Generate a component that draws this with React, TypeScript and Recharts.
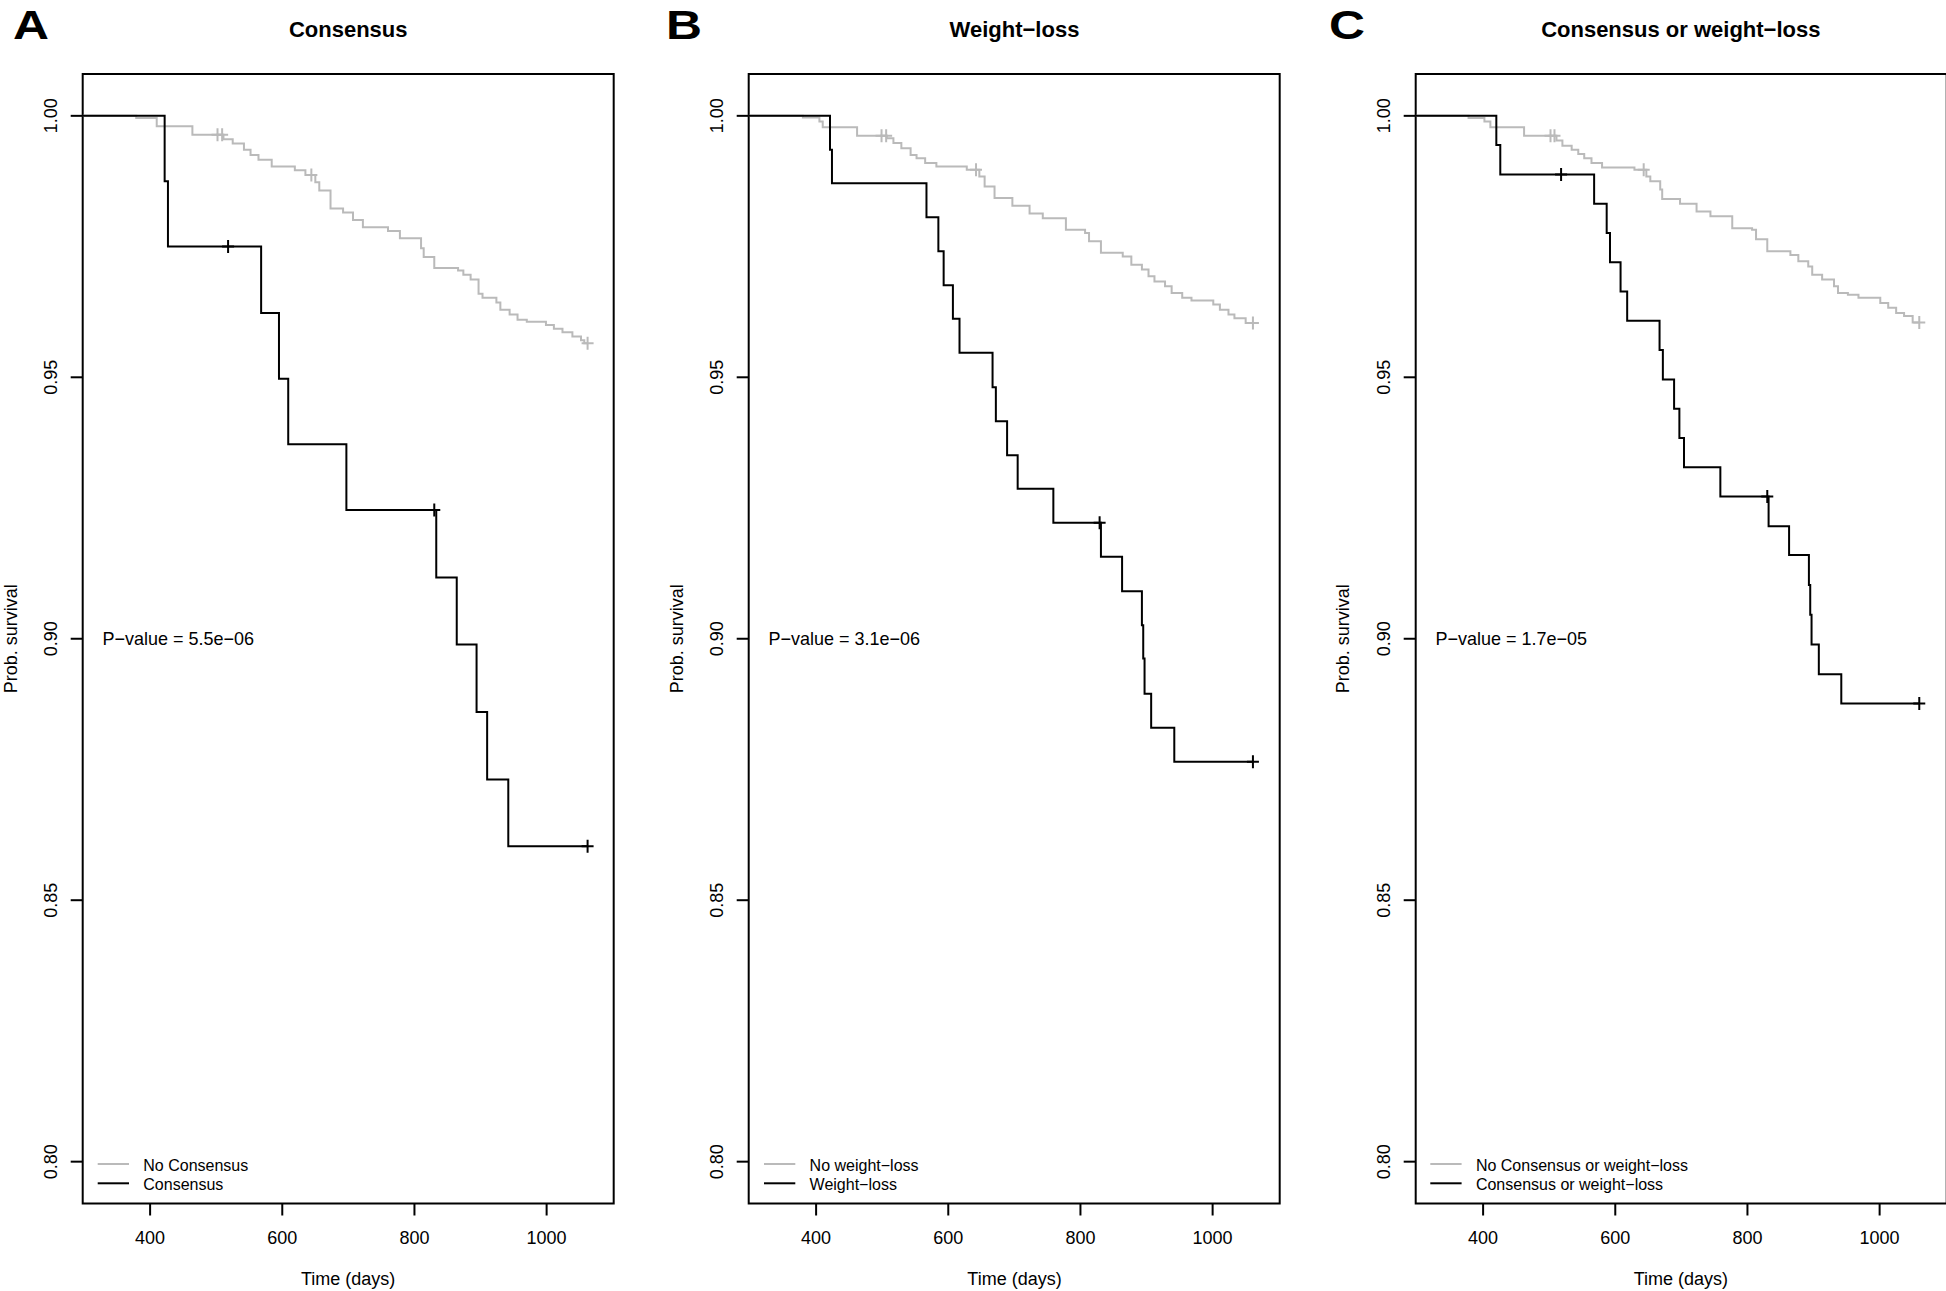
import React from "react";
import {
  ComposedChart,
  Line,
  XAxis,
  YAxis,
  ReferenceArea,
  ReferenceDot,
} from "recharts";

// R-style base graphics look: Helvetica-ish text, black box, grey/black KM curves
const FONT = '"Liberation Sans", Arial, Helvetica, sans-serif';
const GREY = "#bababa";
const BLACK = "#000000";

const X_DOMAIN = [298, 1101.5];
const Y_DOMAIN = [0.792, 1.008];
const X_TICKS = [400, 600, 800, 1000];
const Y_TICKS = [0.8, 0.85, 0.9, 0.95, 1.0];
const P_TEXT_X = 328;
const P_TEXT_Y = 0.9;

// --- Panel A: Consensus ---
const noConsT = [0, 379, 410, 464, 511, 525, 542, 552, 564, 584, 619, 635, 650, 656, 673, 692, 707, 722, 760, 778, 810, 814, 830, 866, 874, 885, 897, 903, 924, 930, 944, 956, 970, 999, 1011, 1024, 1039, 1052, 1057];
const noConsS = [1, 0.9996, 0.998, 0.9964, 0.9955, 0.9947, 0.9935, 0.9925, 0.9916, 0.9903, 0.9896, 0.9887, 0.9873, 0.9857, 0.9823, 0.9815, 0.9801, 0.9787, 0.978, 0.9766, 0.9747, 0.973, 0.9709, 0.9704, 0.9696, 0.9687, 0.966, 0.9652, 0.9643, 0.9629, 0.962, 0.961, 0.9606, 0.96, 0.9593, 0.9586, 0.9578, 0.9571, 0.9565];
const noConsCens = [502, 509, 644, 1062];

const consT = [0, 422, 427, 568, 595, 609, 697, 833, 864, 894, 910, 942];
const consS = [1, 0.9875, 0.975, 0.9623, 0.9497, 0.9372, 0.9246, 0.9117, 0.8989, 0.886, 0.8731, 0.8603];
const consCens = [518, 830, 1062];

// --- Panel B: Weight-loss ---
const noWlT = [0, 380, 405, 410, 462, 507, 517, 529, 543, 552, 565, 582, 628, 647, 655, 670, 697, 723, 743, 778, 807, 813, 831, 864, 877, 893, 903, 912, 928, 938, 954, 968, 1001, 1011, 1024, 1033, 1050];
const noWlS = [1, 0.9997, 0.9989, 0.9978, 0.9962, 0.9957, 0.9948, 0.9938, 0.9925, 0.9919, 0.991, 0.9903, 0.9897, 0.9884, 0.9865, 0.9843, 0.9828, 0.9813, 0.9804, 0.9782, 0.9776, 0.976, 0.9738, 0.9731, 0.9715, 0.9706, 0.9693, 0.9683, 0.9674, 0.9661, 0.9652, 0.9647, 0.9639, 0.9629, 0.962, 0.9613, 0.9604];
const noWlCens = [499, 506, 642, 1061];

const wlT = [0, 421, 424, 567, 585, 593, 607, 617, 667, 672, 689, 705, 759, 831, 863, 893, 895, 897, 907, 942];
const wlS = [1, 0.9935, 0.9871, 0.9806, 0.9741, 0.9676, 0.9612, 0.9547, 0.9481, 0.9416, 0.9351, 0.9287, 0.9222, 0.9157, 0.9091, 0.9026, 0.8962, 0.8895, 0.883, 0.8765];
const wlCens = [829, 1061];

// --- Panel C: Consensus or weight-loss ---
const noEitherT = [0, 378, 402, 411, 462, 511, 520, 534, 544, 553, 564, 580, 629, 647, 653, 668, 671, 698, 723, 744, 777, 807, 813, 830, 865, 877, 892, 898, 913, 931, 937, 952, 968, 1001, 1013, 1025, 1037, 1050];
const noEitherS = [1, 0.9996, 0.9989, 0.9978, 0.9962, 0.9953, 0.9943, 0.9935, 0.9927, 0.9919, 0.991, 0.9901, 0.9897, 0.9884, 0.9875, 0.9859, 0.9841, 0.9832, 0.9817, 0.9808, 0.9785, 0.9782, 0.9764, 0.9741, 0.9734, 0.9722, 0.9712, 0.9696, 0.9687, 0.9674, 0.9661, 0.9658, 0.9652, 0.9642, 0.9633, 0.9623, 0.9617, 0.9605];
const noEitherCens = [502, 508, 643, 1060];

const eitherT = [0, 420, 426, 568, 587, 592, 608, 618, 667, 672, 689, 697, 704, 759, 832, 863, 893, 895, 897, 908, 942];
const eitherS = [1, 0.9944, 0.9888, 0.9832, 0.9776, 0.972, 0.9664, 0.9608, 0.9552, 0.9496, 0.944, 0.9384, 0.9328, 0.9272, 0.9215, 0.916, 0.9103, 0.9046, 0.8989, 0.8932, 0.8876];
const eitherCens = [518, 830, 1060];

const letters = ["A", "B", "C"];
const titles = ["Consensus", "Weight\u2212loss", "Consensus or weight\u2212loss"];
const pValues = ["P\u2212value = 5.5e\u221206", "P\u2212value = 3.1e\u221206", "P\u2212value = 1.7e\u221205"];
const legendGrey = ["No Consensus", "No weight\u2212loss", "No Consensus or weight\u2212loss"];
const legendBlack = ["Consensus", "Weight\u2212loss", "Consensus or weight\u2212loss"];

type Row = { t: number; s: number; cens?: boolean };

// step curve rows + censoring rows (censor sits on the current level)
function km(times: number[], surv: number[], cens: number[]): Row[] {
  const rows: Row[] = times.map((t, i) => ({ t, s: surv[i] }));
  cens.forEach((c) => {
    let s = 1;
    times.forEach((t, i) => {
      if (t <= c) s = surv[i];
    });
    rows.push({ t: c, s, cens: true });
  });
  return rows.sort((a, b) => a.t - b.t);
}

const panels = [
  { grey: km(noConsT, noConsS, noConsCens), black: km(consT, consS, consCens) },
  { grey: km(noWlT, noWlS, noWlCens), black: km(wlT, wlS, wlCens) },
  { grey: km(noEitherT, noEitherS, noEitherCens), black: km(eitherT, eitherS, eitherCens) },
];

// layout (px)
const PANEL_W = 666.3;
const BOX_L = 82.7;
const BOX_W = 531;
const BOX_T = 74;
const BOX_B = 1203.5;
const H = 1291;
const LETTER_X = [13, 666, 1329];

const censorDot = (color: string) => (p: any) => {
  const { cx, cy, payload, index } = p;
  if (!payload || !payload.cens || cx == null) return <g key={`d${index}`} />;
  return (
    <path
      key={`d${index}`}
      d={`M${cx - 6},${cy}H${cx + 6}M${cx},${cy - 6.5}V${cy + 6.5}`}
      stroke={color}
      strokeWidth={2}
      fill="none"
    />
  );
};

const XTick = (p: any) => (
  <text x={p.x} y={p.y + 28.5} textAnchor="middle" fontSize={18} fontFamily={FONT} fill={BLACK}>
    {p.payload.value}
  </text>
);

const YTick = (p: any) => {
  const bx = p.x - 13.3;
  return (
    <text
      x={bx}
      y={p.y}
      transform={`rotate(-90 ${bx} ${p.y})`}
      textAnchor="middle"
      fontSize={18}
      fontFamily={FONT}
      fill={BLACK}
    >
      {Number(p.payload.value).toFixed(2)}
    </text>
  );
};

function Panel({ i }: { i: number }) {
  const d = panels[i];
  return (
    <div style={{ position: "absolute", left: i * PANEL_W, top: 0 }}>
      <ComposedChart
        width={PANEL_W}
        height={H}
        margin={{ top: BOX_T, right: PANEL_W - BOX_L - BOX_W, bottom: 27.5, left: 0 }}
      >
        <XAxis
          type="number"
          dataKey="t"
          domain={X_DOMAIN}
          ticks={X_TICKS}
          allowDataOverflow
          axisLine={false}
          tickLine={{ stroke: BLACK, strokeWidth: 2 }}
          tickSize={12}
          tickMargin={0}
          tick={<XTick />}
          height={H - BOX_B - 27.5}
        />
        <YAxis
          type="number"
          dataKey="s"
          domain={Y_DOMAIN}
          ticks={Y_TICKS}
          allowDataOverflow
          axisLine={false}
          tickLine={{ stroke: BLACK, strokeWidth: 2 }}
          tickSize={12}
          tickMargin={0}
          tick={<YTick />}
          width={BOX_L}
        />
        <Line
          data={d.grey}
          dataKey="s"
          type="stepAfter"
          stroke={GREY}
          strokeWidth={2}
          dot={censorDot(GREY)}
          activeDot={false}
          isAnimationActive={false}
        />
        <Line
          data={d.black}
          dataKey="s"
          type="stepAfter"
          stroke={BLACK}
          strokeWidth={2}
          dot={censorDot(BLACK)}
          activeDot={false}
          isAnimationActive={false}
        />
        <ReferenceDot
          x={P_TEXT_X}
          y={P_TEXT_Y}
          r={0}
          fill="none"
          stroke="none"
          label={{
            value: pValues[i],
            position: "right",
            offset: 0,
            fill: BLACK,
            fontSize: 18,
            fontFamily: FONT,
          }}
        />
        <ReferenceArea
          x1={X_DOMAIN[0]}
          x2={X_DOMAIN[1]}
          y1={Y_DOMAIN[0]}
          y2={Y_DOMAIN[1]}
          fill="none"
          stroke={BLACK}
          strokeWidth={2}
          ifOverflow="visible"
        />
      </ComposedChart>
    </div>
  );
}

// titles, panel letters, axis titles and legends
function Overlay() {
  return (
    <svg
      width={1946}
      height={H}
      style={{ position: "absolute", left: 0, top: 0, pointerEvents: "none" }}
      fontFamily={FONT}
    >
      {[0, 1, 2].map((i) => {
        const bl = i * PANEL_W + BOX_L;
        const cx = bl + BOX_W / 2;
        const ylabX = bl - 66;
        const ylabY = (BOX_T + BOX_B) / 2;
        return (
          <g key={i}>
            <text
              x={LETTER_X[i]}
              y={39}
              fontSize={40}
              fontWeight="bold"
              fill={BLACK}
              textLength={36}
              lengthAdjust="spacingAndGlyphs"
            >
              {letters[i]}
            </text>
            <text x={cx} y={36.7} fontSize={22} fontWeight="bold" textAnchor="middle" fill={BLACK}>
              {titles[i]}
            </text>
            <text x={cx} y={1285} fontSize={18} textAnchor="middle" fill={BLACK}>
              Time (days)
            </text>
            <text
              x={ylabX}
              y={ylabY}
              transform={`rotate(-90 ${ylabX} ${ylabY})`}
              fontSize={18}
              textAnchor="middle"
              fill={BLACK}
            >
              Prob. survival
            </text>
            <line x1={bl + 15} x2={bl + 46.3} y1={1164} y2={1164} stroke={GREY} strokeWidth={2} />
            <line x1={bl + 15} x2={bl + 46.3} y1={1183.3} y2={1183.3} stroke={BLACK} strokeWidth={2} />
            <text x={bl + 60.6} y={1170.7} fontSize={16} fill={BLACK}>
              {legendGrey[i]}
            </text>
            <text x={bl + 60.6} y={1190} fontSize={16} fill={BLACK}>
              {legendBlack[i]}
            </text>
          </g>
        );
      })}
    </svg>
  );
}

export default function App() {
  return (
    <div
      style={{
        position: "absolute",
        left: 0,
        top: 0,
        width: 1946,
        height: H,
        overflow: "hidden",
        background: "#fff",
      }}
    >
      {[0, 1, 2].map((i) => (
        <Panel key={i} i={i} />
      ))}
      <Overlay />
    </div>
  );
}
